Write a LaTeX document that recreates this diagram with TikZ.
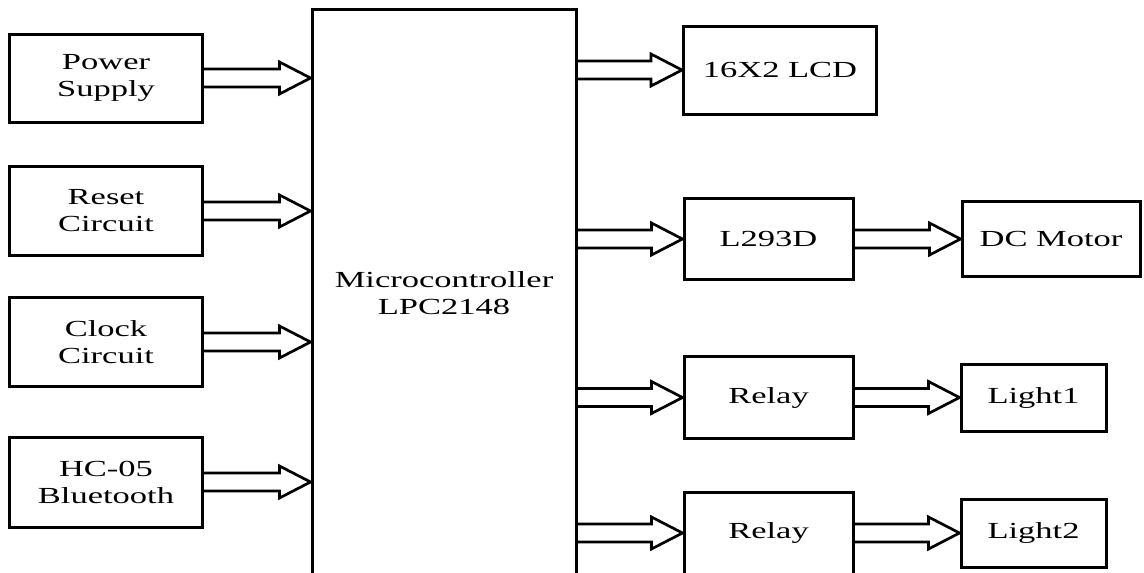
\documentclass[tikz,border=0pt]{standalone}
\usepackage{fontspec}
\newfontfamily\blockfont[FakeStretch=1.5]{Liberation Serif}
\usetikzlibrary{calc}
\tikzset{
  block/.style={draw, line width=3pt, align=center, inner sep=0pt,
    font=\blockfont\fontsize{23}{27}\selectfont},
  fatline/.style={draw, line width=2.7pt, line join=miter},
}
% hollow double-line arrow: #1 start point, #2 tip point
\newcommand{\fatarrow}[2]{%
  \draw[fatline] ($(#1)+(0,-9)$) -- ($(#2)+(-31,-9)$) -- ($(#2)+(-31,-16)$) -- (#2)
    -- ($(#2)+(-31,16)$) -- ($(#2)+(-31,9)$) -- ($(#1)+(0,9)$);}

\begin{document}
\begin{tikzpicture}[x=1pt,y=-1pt]
\useasboundingbox (0,0) rectangle (1144,573);

% inputs
\node[block, minimum width=193pt, minimum height=88pt] (power) at (106,78) {Power\\Supply};
\node[block, minimum width=193pt, minimum height=89pt] (reset) at (106,211) {Reset\\Circuit};
\node[block, minimum width=193pt, minimum height=89pt] (clock) at (106,342) {Clock\\Circuit};
\node[block, minimum width=193pt, minimum height=90pt] (hc) at (106,482) {HC-05\\Bluetooth};

% controller
\node[block, minimum width=264pt, minimum height=569pt] (mcu) at (444,293.5) {Microcontroller\\LPC2148};

% outputs
\node[block, minimum width=193pt, minimum height=88pt] (lcd) at (780,70) {16X2 LCD};
\node[block, minimum width=169pt, minimum height=81pt] (driver) at (768.5,239) {L293D};
\node[block, minimum width=178pt, minimum height=75pt] (motor) at (1051,239) {DC Motor};
\node[block, minimum width=169pt, minimum height=82pt] (relayA) at (768.5,397.5) {Relay};
\node[block, minimum width=145pt, minimum height=67pt] (lightA) at (1033.5,397.5) {Light1};
\node[block, minimum width=169pt, minimum height=82pt] (relayB) at (768.5,533) {Relay};
\node[block, minimum width=145pt, minimum height=68pt] (lightB) at (1033.5,533) {Light2};

\fatarrow{power.east}{mcu.west |- power.east}
\fatarrow{reset.east}{mcu.west |- reset.east}
\fatarrow{clock.east}{mcu.west |- clock.east}
\fatarrow{hc.east}{mcu.west |- hc.east}

\fatarrow{mcu.east |- lcd.west}{lcd.west}
\fatarrow{mcu.east |- driver.west}{driver.west}
\fatarrow{mcu.east |- relayA.west}{relayA.west}
\fatarrow{mcu.east |- relayB.west}{relayB.west}

\fatarrow{driver.east}{motor.west |- driver.east}
\fatarrow{relayA.east}{lightA.west |- relayA.east}
\fatarrow{relayB.east}{lightB.west |- relayB.east}
\end{tikzpicture}
\end{document}
